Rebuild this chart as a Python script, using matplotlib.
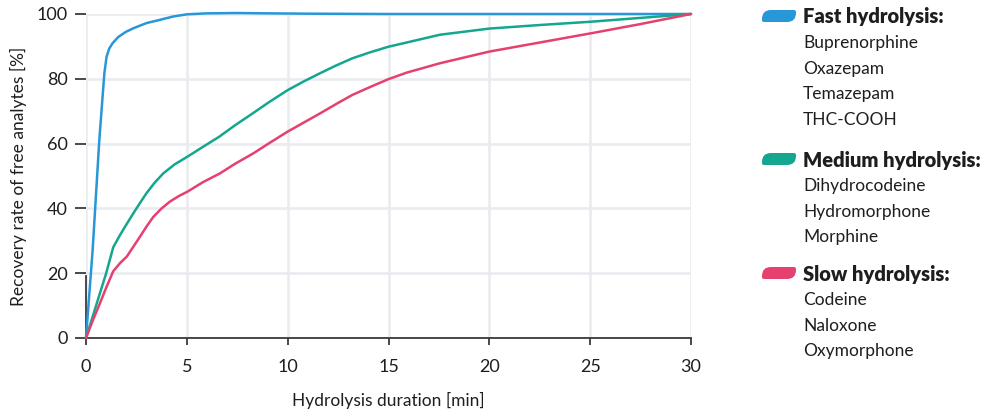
import matplotlib
matplotlib.use("Agg")
import matplotlib.pyplot as plt
from matplotlib.path import Path
from matplotlib.patches import PathPatch

# --- data ---
t_fast = [0, 0.33, 0.66, 0.91, 1.02, 1.15, 1.32, 1.6, 1.98, 2.35, 3.0, 3.67, 4.3, 5.0, 6.0, 7.5, 9.0, 11.0, 15.0, 20.0, 25.0, 30.0]
v_fast = [0, 27.2, 61.1, 81.7, 86.8, 89.3, 91.0, 92.9, 94.5, 95.6, 97.2, 98.2, 99.2, 99.9, 100.2, 100.3, 100.2, 100.1, 100.0, 100.0, 100.0, 100.0]

t_medium = [0, 0.35, 0.69, 1.0, 1.35, 1.69, 2.0, 2.35, 2.68, 3.0, 3.4, 3.83, 4.4, 5.04, 5.8, 6.6, 7.4, 8.26, 9.1, 10.0, 10.8, 11.6, 12.4, 13.2, 14.1, 15.0, 15.9, 17.55, 20.0, 22.5, 25.0, 27.5, 30.0]
v_medium = [0, 7, 13.8, 20.0, 28.0, 31.8, 35.0, 38.5, 41.7, 44.7, 47.9, 50.8, 53.6, 56.0, 59.0, 62.1, 65.7, 69.3, 72.9, 76.5, 79.2, 81.7, 84.1, 86.3, 88.2, 89.9, 91.2, 93.6, 95.5, 96.6, 97.6, 98.8, 100.0]

t_slow = [0, 0.35, 0.69, 1.0, 1.35, 1.7, 2.02, 2.35, 2.68, 3.0, 3.34, 3.75, 4.16, 4.6, 5.04, 5.8, 6.64, 7.4, 8.3, 9.1, 10.0, 10.8, 11.6, 12.4, 13.2, 14.1, 15.0, 15.9, 17.55, 20.0, 22.5, 25.0, 27.5, 30.0]
v_slow = [0, 5.6, 10.7, 15.5, 20.6, 23.2, 25.1, 28.2, 31.3, 34.4, 37.4, 40.0, 42.1, 43.8, 45.2, 48.1, 50.8, 53.8, 57.0, 60.2, 63.7, 66.5, 69.3, 72.2, 75.0, 77.5, 79.9, 81.9, 84.8, 88.4, 91.2, 94.0, 96.9, 100.0]

groups = [
    ("Fast hydrolysis:", ["Buprenorphine", "Oxazepam", "Temazepam", "THC-COOH"]),
    ("Medium hydrolysis:", ["Dihydrocodeine", "Hydromorphone", "Morphine"]),
    ("Slow hydrolysis:", ["Codeine", "Naloxone", "Oxymorphone"]),
]
colors = ["#2797d8", "#15a68f", "#e6406e"]

x_ticks = [0, 5, 10, 15, 20, 25, 30]
y_ticks = [0, 20, 40, 60, 80, 100]

plt.rcParams["font.family"] = ["Lato", "DejaVu Sans"]
text_col = "#1e1e1e"
grid_col = "#e8ebf0"

W, H = 1000, 409
fig = plt.figure(figsize=(W / 100, H / 100), dpi=100)
ax = fig.add_axes([86 / W, 1 - 338 / H, (691 - 86) / W, (338 - 14) / H])

for t, v, c in zip([t_fast, t_medium, t_slow], [v_fast, v_medium, v_slow], colors):
    ax.plot(t, v, color=c, lw=1.8, solid_capstyle="round", solid_joinstyle="round",
            zorder=3, clip_on=False)

ax.set_xlim(0, 30)
ax.set_ylim(0, 100)
ax.set_xticks(x_ticks)
ax.set_yticks(y_ticks)
ax.grid(True, color=grid_col, lw=1.8, zorder=0)
ax.set_axisbelow(True)

for s in ["top", "right"]:
    ax.spines[s].set_visible(False)
ax.spines["bottom"].set_color("#3a3a3a")
ax.spines["bottom"].set_linewidth(1.3)
ax.spines["left"].set_color("#3a3a3a")
ax.spines["left"].set_linewidth(1.3)
ax.spines["left"].set_bounds(0, 19)

ax.tick_params(axis="y", length=8, width=1.3, color="#3a3a3a", labelsize=13, labelcolor=text_col, pad=5)
ax.tick_params(axis="x", length=5, width=1.3, color="#3a3a3a", labelsize=13, labelcolor=text_col, pad=10)

ax.set_xlabel("Hydrolysis duration [min]", fontsize=12.5, color=text_col, labelpad=12)
ax.set_ylabel("Recovery rate of free analytes [%]", fontsize=12.5, color=text_col, labelpad=7)


def swatch(x0, y0, w, h, color):
    # leaf-like rounded swatch in figure pixel coords (y from top)
    r = h * 0.75
    pts = [
        (x0 + r, y0),
        (x0 + w - 2, y0),
        (x0 + w, y0), (x0 + w, y0 + 2),
        (x0 + w, y0 + h - r),
        (x0 + w, y0 + h), (x0 + w - r, y0 + h),
        (x0 + 2, y0 + h),
        (x0, y0 + h), (x0, y0 + h - 2),
        (x0, y0 + r),
        (x0, y0), (x0 + r, y0),
    ]
    codes = [Path.MOVETO, Path.LINETO, Path.CURVE3, Path.CURVE3, Path.LINETO,
             Path.CURVE3, Path.CURVE3, Path.LINETO, Path.CURVE3, Path.CURVE3,
             Path.LINETO, Path.CURVE3, Path.CURVE3]
    verts = [(px / W, 1 - py / H) for px, py in pts]
    fig.patches.append(PathPatch(Path(verts, codes), facecolor=color, edgecolor="none",
                                 transform=fig.transFigure))


header_y = [17, 160, 274]
step = 25.8
for (title, items), c, y0 in zip(groups, colors, header_y):
    swatch(762, y0 - 7, 34, 12, c)
    fig.text(803 / W, 1 - y0 / H, title, fontsize=14.5, fontweight="heavy", color=text_col,
             va="center", ha="left")
    for i, name in enumerate(items):
        fig.text(803 / W, 1 - (y0 + step * (i + 1)) / H, name, fontsize=12.5, color=text_col,
                 va="center", ha="left")

fig.savefig("out.png", dpi=100)
